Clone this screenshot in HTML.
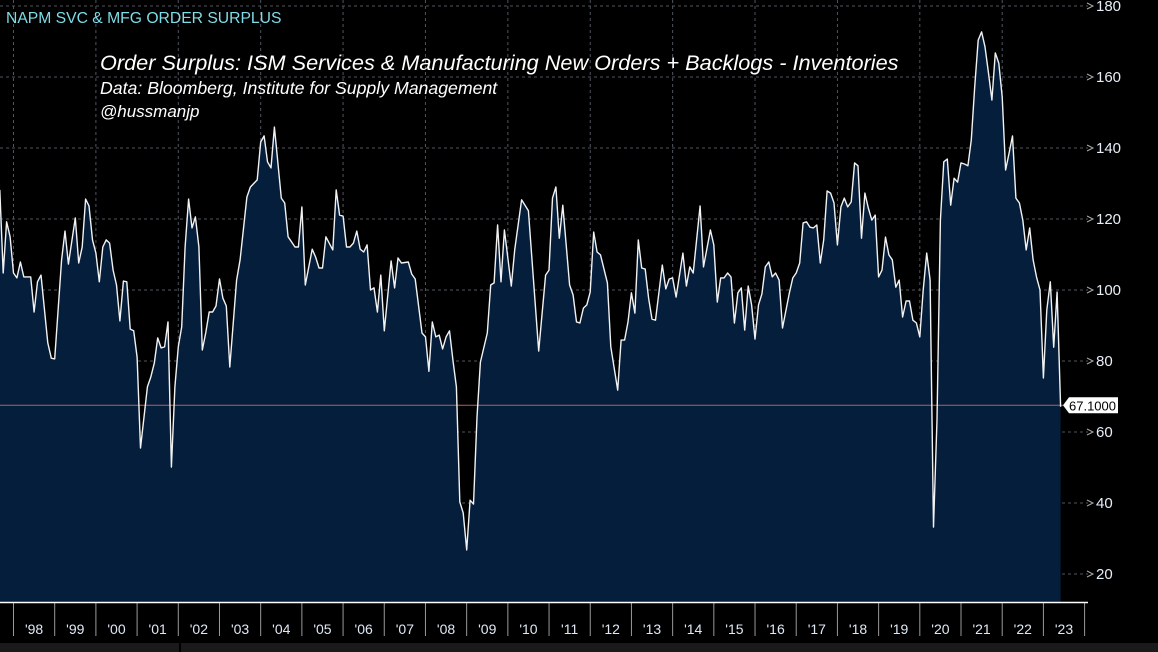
<!DOCTYPE html>
<html><head><meta charset="utf-8"><style>
html,body{margin:0;padding:0;background:#000;width:1158px;height:652px;overflow:hidden}
svg{display:block}
text{font-family:"Liberation Sans",sans-serif}
</style></head><body>
<svg id="chart" width="1158" height="652" viewBox="0 0 1158 652" xmlns="http://www.w3.org/2000/svg">
<rect x="0" y="0" width="1158" height="652" fill="#000"/>
<g id="grid"></g>
<g id="series"></g>
<g id="yaxis"></g>
<g id="xaxis"></g>
<rect x="0" y="643" width="1158" height="9" fill="#1a1a1a"/>
<rect x="179" y="643" width="2" height="9" fill="#000"/>
<text x="6" y="23" fill="#7fdce8" font-size="15.7">NAPM SVC &amp; MFG ORDER SURPLUS</text>
<text x="100" y="70" fill="#fff" font-size="21.7" font-style="italic">Order Surplus: ISM Services &amp; Manufacturing New Orders + Backlogs - Inventories</text>
<text x="100" y="94" fill="#fff" font-size="17.7" font-style="italic">Data: Bloomberg, Institute for Supply Management</text>
<text x="100" y="117" fill="#fff" font-size="17" font-style="italic">@hussmanjp</text>
<g id="lastlabel"></g>
</svg>
<script>
const months = [-4,-3,-2,-1,0,1,2,3,5,6,7,8,10,11,12,14,15,16,18,19,20,21,22,23,24,25,26,27,28,29,30,31,32,33,34,35,36,37,38,39,40,41,42,43,44,45,46,47,48,49,50,51,52,53,54,55,56,57,58,59,60,61,62,63,65,66,68,69,71,72,73,74,75,76,78,79,80,82,83,84,85,87,88,89,90,91,93,94,95,96,97,98,99,100,101,102,103,104,105,106,107,108,110,111,112,113,115,116,117,119,120,121,122,123,124,125,126,127,128,129,130,131,132,133,134,135,136,138,139,140,141,142,143,145,146,148,150,153,155,156,157,158,159,160,162,163,164,165,166,167,168,169,170,171,173,174,176,177,178,179,180,181,182,183,184,185,186,187,189,190,191,192,193,195,196,197,198,200,201,203,204,205,206,207,208,209,210,211,212,213,214,215,216,217,218,219,220,221,222,223,224,226,227,228,229,230,231,232,233,234,235,236,237,238,239,240,241,242,243,244,245,246,247,248,249,250,251,252,253,254,255,256,257,258,259,260,261,262,263,264,265,266,267,268,269,270,271,272,273,274,275,276,277,278,279,280,281,282,283,284,285,286,287,288,289,290,291,292,293,294,295,296,297,298,299,300,301,302,303,304,305];
const values = [128.2,104.8,119.2,115,104.8,103.4,107.9,103.7,103.7,93.8,102.3,104.2,85.1,80.8,80.6,108.5,116.6,107.3,120.3,107.6,112.1,125.6,123.7,114.1,110.4,102.3,112.1,114.1,113.2,105.6,101.4,91.3,102.5,102.3,89,88.5,81.1,55.5,64.2,72.7,75.5,79.4,86.5,83.7,84,91,50.1,72.7,84,89.6,112.1,125.6,117.5,120.6,112.1,83.1,87.9,93.8,93.8,95.5,103.1,97.7,95.5,78.3,102.8,108.5,126.2,129,131,141.7,143.4,136.1,134.4,145.9,125.9,124.5,115,112.1,112.1,123.4,101.4,111.5,109.3,106.2,106.2,115,111.3,128.2,121.1,120.8,112.1,112.1,113.2,116.6,111.5,110.7,112.7,100,100.6,93.8,104.2,88.5,108.2,100.6,109,107.6,107.9,104.5,103.1,87.9,86.8,77.1,91,86.8,87.3,83.4,86.8,88.5,80.3,72.7,40.3,37.2,26.8,40.8,39.7,64.2,79.7,87.9,101.4,102,118.3,102.3,116.9,101.1,111.3,125.4,122.3,82.8,104.2,105.6,125.9,129,114.6,123.9,101.4,98.6,91,90.7,94.9,95.8,99.4,116.3,110.7,109.9,102,84,71.8,85.9,85.9,91,99.2,93.5,114.1,106.2,105.9,97.7,91.8,91.5,107,100.3,103.1,103.4,98,110.4,101.1,106.5,104.8,123.7,106.5,116.9,112.7,96.6,103.4,103.4,104.8,103.7,90.7,99.2,100.6,88.7,101.1,95.8,86.2,95.8,98.9,106.5,107.9,103.7,104.8,102.8,89.3,99.2,103.4,104.8,107.6,118.9,119.2,117.7,117.5,118.3,107.6,114.1,127.9,127.3,124.5,112.7,123.4,125.9,123.4,124.8,135.8,135,114.6,127.3,123.1,119.7,121.1,103.7,105.6,114.9,109.9,108.5,100.8,102.8,92.4,96.9,96.9,91.5,90.7,86.8,100,110.4,102.8,33.2,63.4,119.7,136.1,136.9,123.9,131.5,130.4,135.8,135.5,135,142.3,157.2,170.4,172.7,168.5,161.1,153.5,166.8,163.9,154.4,133.8,138.6,143.4,125.9,124.5,119.7,111.3,117.5,108.5,103.7,100,75.2,94.4,102.3,83.9,99.4,67.1];
const yTicks = [20,40,60,80,100,120,140,160,180];
const yearLabels = ["'98","'99","'00","'01","'02","'03","'04","'05","'06","'07","'08","'09","'10","'11","'12","'13","'14","'15","'16","'17","'18","'19","'20","'21","'22","'23"];
const lastLabel = "67.1000";

const NS="http://www.w3.org/2000/svg";
const X0=13.5, PXM=3.433, Y0=6, PXV=3.55, BOTTOM=602;
const xs=m=>X0+m*PXM;
const ys=v=>Y0+(180-v)*PXV;
function mk(tag,attrs,parent){const e=document.createElementNS(NS,tag);for(const k in attrs)e.setAttribute(k,attrs[k]);parent.appendChild(e);return e;}
const grid=document.getElementById('grid'),ser=document.getElementById('series'),ya=document.getElementById('yaxis'),xa=document.getElementById('xaxis'),ll=document.getElementById('lastlabel');

yTicks.forEach(v=>{
  const l=mk('line',{x1:0,x2:1088,y1:ys(v),y2:ys(v),stroke:'#505560','stroke-width':1,'stroke-dasharray':'3,3'},grid);
  
  
  const a=mk('path',{d:`M${1087} ${ys(v)-3} L${1093} ${ys(v)} L${1087} ${ys(v)+3}`,fill:'none',stroke:'#aaa','stroke-width':1},ya);
  
  
  const t=mk('text',{x:1096,y:ys(v)+5,fill:'#e8eef8','font-size':15},ya);
  t.textContent=v;
  
  
});
yearLabels.forEach((lab,i)=>{
  const xb=xs(i*12);
  if(i%2===0){
    const g=mk('line',{x1:xb,x2:xb,y1:0,y2:BOTTOM,stroke:'#505560','stroke-width':1,'stroke-dasharray':'3,3'},grid);
    
    
  }
  const tk=mk('line',{x1:xb,x2:xb,y1:BOTTOM,y2:636,stroke:'#999','stroke-width':1},xa);
  
  
  const t=mk('text',{x:xs(i*12+6),y:634,fill:'#dfe8f5','font-size':14,'text-anchor':'middle'},xa);
  t.textContent=lab;
  
  
});
const lastTk=mk('line',{x1:xs(yearLabels.length*12),x2:xs(yearLabels.length*12),y1:BOTTOM,y2:636,stroke:'#999','stroke-width':1},xa);


const axl=mk('line',{x1:0,x2:1088,y1:BOTTOM+0.5,y2:BOTTOM+0.5,stroke:'#fff','stroke-width':1.5},xa);



let d='';
months.forEach((m,i)=>{d+=(i?'L':'M')+xs(m).toFixed(1)+' '+ys(values[i]).toFixed(1)+' ';});
const lastX=xs(months[months.length-1]);
const area=mk('path',{d:d+`L${lastX.toFixed(1)} ${BOTTOM} L${xs(months[0]).toFixed(1)} ${BOTTOM} Z`,fill:'#041e3b',stroke:'none'},ser);


const lastV=values[values.length-1];
const hl=mk('line',{x1:0,x2:1063,y1:ys(lastV)-1.5,y2:ys(lastV)-1.5,stroke:'#b06060','stroke-width':1},ser);


const line=mk('path',{d:d,fill:'none',stroke:'#f2f2f2','stroke-width':1.4,'stroke-linejoin':'round'},ser);



const ly=ys(lastV)-1.5;
const box=mk('path',{d:`M1063 ${ly} L1069 ${ly-8} L1118 ${ly-8} L1118 ${ly+8} L1069 ${ly+8} Z`,fill:'#fff'},ll);


const lt=mk('text',{x:1069,y:ly+5,fill:'#000','font-size':13},ll);
lt.textContent=lastLabel;


</script>
</body></html>
